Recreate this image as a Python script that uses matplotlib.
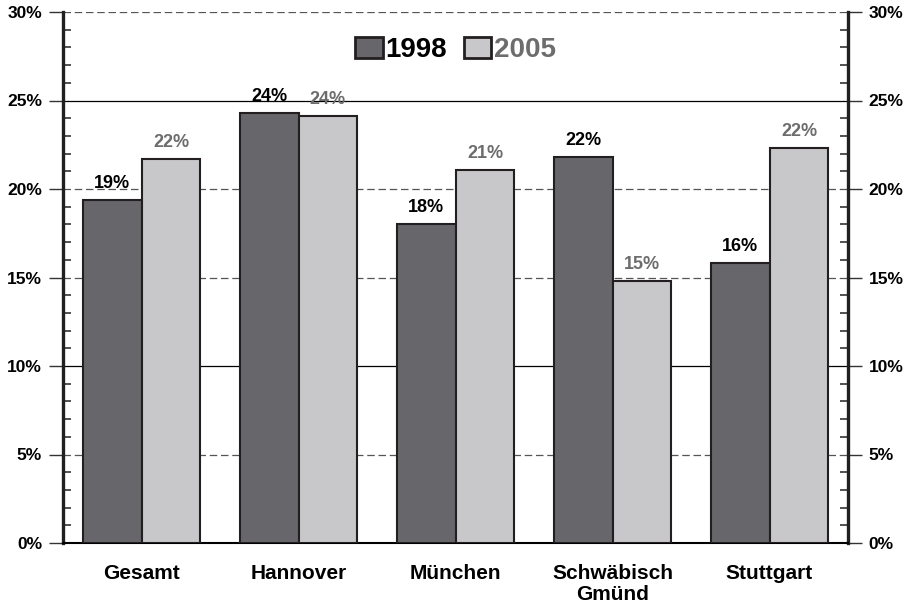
import matplotlib
matplotlib.use('Agg')
import matplotlib.pyplot as plt
import numpy as np
from matplotlib.ticker import MultipleLocator, FuncFormatter

plt.rcParams['font.family'] = ['Liberation Sans', 'DejaVu Sans']
plt.rcParams['font.weight'] = 'bold'

categories = ['Gesamt', 'Hannover', 'München', 'Schwäbisch\nGmünd', 'Stuttgart']
vals_1998 = [19.4, 24.3, 18.0, 21.8, 15.8]
vals_2005 = [21.7, 24.1, 21.1, 14.8, 22.3]
labels_1998 = ['19%', '24%', '18%', '22%', '16%']
labels_2005 = ['22%', '24%', '21%', '15%', '22%']

dark = '#67676b'
light = '#c8c8ca'
edge = '#231f20'
gray_text = '#6d6d6d'

fig = plt.figure(figsize=(9.11, 6.07), dpi=100)
ax = fig.add_axes([63 / 911, 1 - 543 / 607, 785 / 911, 531 / 607])

x = np.arange(len(categories))
w = 0.375
ax.bar(x - w / 2, vals_1998, w, color=dark, edgecolor=edge, linewidth=1.5, label='1998', zorder=3)
ax.bar(x + w / 2, vals_2005, w, color=light, edgecolor=edge, linewidth=1.5, label='2005', zorder=3)

for xi, v, t in zip(x, vals_1998, labels_1998):
    ax.text(xi - w / 2, v + 0.45, t, ha='center', va='bottom', fontsize=13, fontweight='bold', color='black', zorder=4)
for xi, v, t in zip(x, vals_2005, labels_2005):
    ax.text(xi + w / 2, v + 0.45, t, ha='center', va='bottom', fontsize=13, fontweight='bold', color=gray_text, zorder=4)

ax.set_xlim(-0.5, len(categories) - 0.5)
ax.set_ylim(0, 30)

# gridlines: some solid, some dashed like the scan
for yv in [5, 10, 15, 20, 25, 30]:
    if yv in (10, 25):
        ax.axhline(yv, color='black', linewidth=0.9, zorder=1)
    else:
        ax.axhline(yv, color='#555555', linewidth=0.9, linestyle=(0, (6, 3)), zorder=1)

ax.yaxis.set_major_locator(MultipleLocator(5))
ax.yaxis.set_minor_locator(MultipleLocator(1))
ax.yaxis.set_major_formatter(FuncFormatter(lambda v, p: '%d%%' % v))
ax.tick_params(axis='y', which='major', direction='out', length=10, width=1.0,
               left=True, right=True, labelleft=True, labelright=True, labelsize=12.5, pad=5, color='#333333')
ax.tick_params(axis='y', which='minor', direction='in', length=6, width=1.2,
               left=True, right=True, color='#333333')
for lab in ax.get_yticklabels():
    lab.set_fontweight('bold')

ax.set_xticks(x)
ax.set_xticklabels(categories, fontsize=15, fontweight='bold', linespacing=1.15)
ax.tick_params(axis='x', length=0, pad=15)

for s in ['left', 'right']:
    ax.spines[s].set_linewidth(2.4)
    ax.spines[s].set_color('#231f20')
ax.spines['bottom'].set_linewidth(1.5)
ax.spines['top'].set_visible(False)

leg = ax.legend(loc='upper center', bbox_to_anchor=(0.5, 1.0), ncol=2, frameon=False,
                prop={'size': 20, 'weight': 'bold'}, handlelength=1.0, handleheight=0.8,
                handletextpad=0.1, columnspacing=0.6)
leg.get_texts()[0].set_color('black')
leg.get_texts()[1].set_color(gray_text)
for h in leg.legend_handles:
    h.set_linewidth(2)

fig.savefig('out.png', dpi=100)
